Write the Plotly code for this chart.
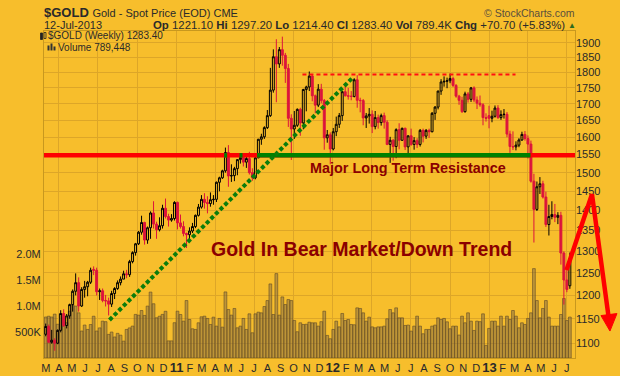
import math
import pandas as pd
import plotly.graph_objects as go

# ---------------- data ----------------
weeks = pd.date_range("2010-03-01", periods=176, freq="W-MON")

opens = [
    1118, 1134, 1102, 1106, 1100, 1126, 1161, 1136, 1156, 1180,
    1209, 1228, 1177, 1213, 1219, 1229, 1258, 1256, 1208, 1210,
    1189, 1188, 1181, 1204, 1215, 1228, 1236, 1248, 1246, 1276,
    1297, 1318, 1346, 1370, 1327, 1357, 1394, 1366, 1352, 1362,
    1406, 1385, 1376, 1380,
    1421, 1369, 1360, 1343, 1340, 1349, 1360, 1388, 1409, 1429,
    1421, 1418, 1428, 1429, 1474, 1486, 1505, 1556, 1491, 1492,
    1511, 1536, 1542, 1529, 1539, 1500, 1486, 1541, 1594, 1601,
    1628, 1664, 1743, 1852, 1828, 1876, 1857, 1813, 1656, 1624,
    1635, 1683, 1642, 1745, 1753, 1788, 1725, 1696, 1746, 1710,
    1598, 1607,
    1566, 1616, 1638, 1664, 1738, 1725, 1724, 1723, 1776, 1711,
    1710, 1657, 1663, 1668, 1631, 1658, 1643, 1664, 1644, 1579,
    1591, 1573, 1622, 1591, 1626, 1572, 1604, 1579, 1590, 1579,
    1620, 1603, 1620, 1616, 1671, 1690, 1740, 1769, 1771, 1773,
    1780, 1758, 1724, 1711, 1676, 1731, 1714, 1750, 1712, 1702,
    1697, 1658,
    1664, 1656, 1662, 1687, 1658, 1667, 1668, 1609, 1573, 1572,
    1577, 1592, 1608, 1596, 1580, 1477, 1403, 1462, 1470, 1435,
    1365, 1385, 1390, 1383, 1388, 1296, 1234, 1221.1,
]
highs = [
    1140, 1138, 1127, 1110, 1128, 1168, 1170, 1160, 1182, 1213,
    1249, 1240, 1218, 1232, 1232, 1262, 1265, 1262, 1215, 1215,
    1201, 1195, 1210, 1218, 1233, 1242, 1255, 1257, 1280, 1300,
    1320, 1349, 1387, 1372, 1360, 1398, 1424, 1372, 1383, 1415,
    1431, 1392, 1391, 1424,
    1423, 1390, 1373, 1345, 1358, 1369, 1390, 1417, 1440, 1445,
    1437, 1447, 1440, 1476, 1489, 1508, 1570, 1577, 1523, 1516,
    1537, 1549, 1547, 1552, 1558, 1512, 1543, 1595, 1610, 1632,
    1681, 1815, 1877, 1912, 1885, 1921, 1865, 1828, 1668, 1678,
    1686, 1688, 1747, 1757, 1803, 1793, 1729, 1762, 1763, 1715,
    1621, 1614,
    1627, 1661, 1672, 1740, 1764, 1750, 1740, 1781, 1791, 1719,
    1715, 1672, 1687, 1680, 1678, 1667, 1670, 1673, 1650, 1601,
    1595, 1626, 1641, 1628, 1628, 1605, 1625, 1600, 1597, 1624,
    1625, 1624, 1625, 1675, 1693, 1741, 1778, 1787, 1783, 1796,
    1786, 1762, 1728, 1722, 1738, 1737, 1753, 1755, 1723, 1726,
    1702, 1671,
    1694, 1679, 1695, 1696, 1680, 1684, 1675, 1619, 1617, 1588,
    1597, 1616, 1618, 1605, 1590, 1497, 1476, 1488, 1478, 1449,
    1415, 1424, 1417, 1396, 1397, 1300, 1267, 1297.2,
]
lows = [
    1114, 1100, 1099, 1085, 1098, 1122, 1133, 1130, 1150, 1165,
    1200, 1165, 1175, 1195, 1198, 1225, 1245, 1200, 1190, 1185,
    1176, 1157, 1175, 1192, 1212, 1222, 1236, 1238, 1241, 1272,
    1290, 1315, 1340, 1316, 1318, 1330, 1355, 1330, 1348, 1355,
    1380, 1360, 1372, 1375,
    1353, 1355, 1336, 1308, 1325, 1344, 1356, 1385, 1405, 1405,
    1393, 1410, 1415, 1422, 1450, 1483, 1500, 1462, 1475, 1477,
    1493, 1525, 1517, 1513, 1495, 1478, 1482, 1540, 1578, 1595,
    1624, 1660, 1735, 1705, 1815, 1822, 1766, 1630, 1535, 1595,
    1630, 1604, 1623, 1677, 1740, 1708, 1671, 1690, 1702, 1564,
    1584, 1523,
    1562, 1603, 1627, 1648, 1723, 1713, 1711, 1720, 1688, 1674,
    1635, 1627, 1640, 1612, 1623, 1625, 1634, 1625, 1577, 1527,
    1533, 1540, 1565, 1589, 1563, 1547, 1575, 1564, 1569, 1573,
    1585, 1595, 1598, 1614, 1651, 1683, 1728, 1754, 1749, 1765,
    1753, 1719, 1697, 1672, 1673, 1704, 1706, 1705, 1684, 1691,
    1635, 1646,
    1626, 1644, 1658, 1654, 1651, 1655, 1600, 1555, 1563, 1562,
    1571, 1589, 1590, 1539, 1473, 1321, 1399, 1443, 1431, 1359,
    1338, 1378, 1371, 1366, 1269, 1180, 1207, 1214.4,
]
closes = [
    1134, 1102, 1106, 1100, 1126, 1161, 1136, 1156, 1180, 1209,
    1228, 1177, 1213, 1219, 1229, 1256, 1256, 1208, 1210, 1189,
    1188, 1181, 1204, 1215, 1228, 1236, 1248, 1246, 1276, 1297,
    1318, 1346, 1370, 1327, 1357, 1394, 1366, 1352, 1362, 1406,
    1385, 1376, 1380, 1421,
    1369, 1360, 1343, 1340, 1349, 1360, 1388, 1409, 1429, 1421,
    1418, 1428, 1429, 1474, 1486, 1505, 1556, 1491, 1492, 1511,
    1536, 1542, 1529, 1539, 1500, 1486, 1541, 1594, 1601, 1628,
    1664, 1743, 1852, 1828, 1876, 1857, 1813, 1656, 1624, 1635,
    1683, 1642, 1745, 1753, 1788, 1725, 1696, 1746, 1710, 1598,
    1607, 1566,
    1616, 1638, 1664, 1738, 1725, 1724, 1723, 1776, 1711, 1710,
    1657, 1663, 1668, 1631, 1658, 1643, 1664, 1644, 1579, 1591,
    1573, 1622, 1591, 1626, 1572, 1604, 1579, 1590, 1579, 1620,
    1603, 1620, 1616, 1671, 1690, 1740, 1769, 1771, 1773, 1780,
    1758, 1724, 1711, 1676, 1731, 1714, 1750, 1712, 1702, 1697,
    1658, 1656,
    1656, 1662, 1687, 1658, 1667, 1668, 1609, 1573, 1572, 1577,
    1592, 1608, 1596, 1580, 1477, 1403, 1462, 1470, 1435, 1365,
    1385, 1390, 1383, 1388, 1296, 1234, 1213, 1283.4,
]
volume_k = [
    790, 805, 790, 845, 650, 845, 775, 680, 900, 1020,
    1000, 870, 520, 635, 550, 645, 805, 520, 580, 710,
    700, 455, 500, 405, 475, 440, 325, 550, 580, 615,
    840, 825, 915, 820, 1000, 1270, 1045, 775, 805, 840,
    900, 330, 330, 680,
    902, 838, 710, 1107, 742, 563, 550, 678, 794, 806,
    762, 646, 787, 614, 762, 595, 1273, 934, 826, 954,
    582, 614, 762, 550, 851, 486, 851, 883, 870, 992,
    1107, 1427, 838, 1626, 826, 1177, 1030, 1126, 1107, 723,
    506, 678, 646, 650, 690, 678, 678, 614, 700, 902,
    435, 371,
    550, 710, 600, 858, 723, 742, 646, 640, 966, 954,
    870, 710, 787, 600, 582, 600, 600, 614, 755, 934,
    870, 966, 774, 774, 627, 634, 518, 614, 806, 614,
    467, 550, 550, 614, 634, 774, 742, 762, 697, 563,
    614, 614, 442, 806, 678, 870, 710, 531, 710, 700,
    851, 243,
    570, 710, 710, 614, 806, 614, 806, 742, 915, 806,
    582, 678, 646, 762, 870, 1722, 1107, 774, 954, 1107,
    787, 614, 614, 614, 838, 1146, 723, 789,
]

price_ticks = list(range(1100, 1901, 50))
volume_ticks = [500000, 1000000, 1500000, 2000000]
volume_labels = ["500K", "1.0M", "1.5M", "2.0M"]
month_letters = ["J", "F", "M", "A", "M", "J", "J", "A", "S", "O", "N", "D"]
month_starts = pd.date_range("2010-03-01", "2013-07-01", freq="MS")

# drawn annotation lines (price level, date span)
resistance_level = 1548
resistance_span = ["2010-02-25", "2013-07-20"]
resistance_green = [["2011-07-08", "2013-04-07"], ["2011-04-22", "2011-04-29"],
                    ["2011-05-28", "2011-06-04"]]
top_level = 1793
top_span = ["2011-10-22", "2013-03-03"]
trend_dates = ["2010-07-28", "2012-02-15"]
trend_prices = [1147.5, 1781]

# ---------------- styling ----------------
BG = "#F7BE2C"
GRID = "#DDA628"
FRAME = "#C8981E"
TXT = "#2A2A2A"
FONT = "Liberation Sans, Arial, sans-serif"

W, H = 620, 376
L, R, T, B = 44, 575.5, 30.5, 358


def px(x):
    return (x - L) / (R - L)


def py(y):
    return (B - y) / (B - T)


tick_text = []
for m in month_starts:
    if m.month == 1:
        tick_text.append("<b><span style='font-size:13px'>%s</span></b>" % m.strftime("%y"))
    else:
        tick_text.append(month_letters[m.month - 1])

fig = go.Figure()

fig.add_trace(go.Bar(
    x=weeks, y=[v * 1000 for v in volume_k], yaxis="y",
    marker=dict(color="rgba(128,104,66,0.48)",
                line=dict(color="rgba(96,74,38,0.85)", width=0.7)),
    hoverinfo="skip", showlegend=False,
))

fig.add_trace(go.Candlestick(
    x=weeks, open=opens, high=highs, low=lows, close=closes, yaxis="y2",
    increasing=dict(line=dict(color="#000000", width=1), fillcolor="rgba(0,0,0,0)"),
    decreasing=dict(line=dict(color="#DC143C", width=1), fillcolor="#DC143C"),
    whiskerwidth=0, hoverinfo="skip", showlegend=False,
))


def level_line(span, level, color, width, dash="solid"):
    fig.add_trace(go.Scatter(
        x=span, y=[level, level], yaxis="y2", mode="lines",
        line=dict(color=color, width=width, dash=dash),
        hoverinfo="skip", showlegend=False,
    ))


level_line(resistance_span, resistance_level, "#FF0000", 4.5)
for seg in resistance_green:
    level_line(seg, resistance_level, "#008000", 4.5)
level_line(top_span, top_level, "#FF1010", 2, "4px,3px")

fig.add_trace(go.Scatter(
    x=trend_dates, y=trend_prices, yaxis="y2", mode="lines",
    line=dict(color="#0B7D0B", width=4, dash="4px,2.5px"),
    hoverinfo="skip", showlegend=False,
))

shapes = [
    # red arrow
    dict(type="path", xref="paper", yref="paper",
         path="M %f %f L %f %f L %f %f" % (px(567), py(270), px(592.5), py(194),
                                            px(609.0), py(316)),
         line=dict(color="#FF0000", width=4.5), layer="above"),
    dict(type="path", xref="paper", yref="paper",
         path="M %f %f L %f %f L %f %f Z" % (px(601.5), py(315.5), px(617.5), py(313.5),
                                              px(610.5), py(331)),
         line=dict(color="#FF0000", width=1), fillcolor="#FF0000", layer="above"),
    # legend icons
    dict(type="rect", xref="paper", yref="paper", x0=px(40.5), x1=px(42.5),
         y0=py(39), y1=py(32.5), line=dict(color="#222", width=0.8), fillcolor="#222", layer="above"),
    dict(type="rect", xref="paper", yref="paper", x0=px(44), x1=px(46),
         y0=py(38), y1=py(32), line=dict(color="#222", width=0.8), fillcolor="rgba(0,0,0,0)", layer="above"),
    dict(type="rect", xref="paper", yref="paper", x0=px(47.5), x1=px(49.5),
         y0=py(50), y1=py(45), line=dict(width=0), fillcolor="#333", layer="above"),
    dict(type="rect", xref="paper", yref="paper", x0=px(50.5), x1=px(52.5),
         y0=py(50), y1=py(43), line=dict(width=0), fillcolor="#333", layer="above"),
    dict(type="rect", xref="paper", yref="paper", x0=px(53.5), x1=px(55.5),
         y0=py(50), y1=py(46), line=dict(width=0), fillcolor="#333", layer="above"),
]

ann = []


def text(x, y, s, size=11, color=TXT, anchor="left"):
    ann.append(dict(xref="paper", yref="paper", x=px(x), y=py(y), text=s,
                    showarrow=False, xanchor=anchor, yanchor="middle",
                    font=dict(family=FONT, size=size, color=color), borderpad=0))


text(43, 12.3, "<b>$GOLD</b> <span style='font-size:11px'>Gold - Spot Price (EOD) CME</span>", size=13)
text(43, 24.5, "12-Jul-2013", size=11)
text(566, 24.5, "<b>Op</b> 1221.10 <b>Hi</b> 1297.20 <b>Lo</b> 1214.40 <b>Cl</b> 1283.40 "
                "<b>Vol</b> 789.4K <b>Chg</b> +70.70 (+5.83%)", size=11.4, anchor="right")
text(572.5, 24.5, "▲", size=8, color="#2E6B1E", anchor="center")
text(577, 12.3, "© StockCharts.com", size=10.5, color="#5A4E3C", anchor="right")
text(47, 35.2, "$GOLD (Weekly) 1283.40", size=10)
text(57, 46.7, "Volume 789,448", size=10)
text(309, 168, "<b>Major Long Term Resistance</b>", size=14.4, color="#8B0000")
text(210.5, 249, "<b>Gold In Bear Market/Down Trend</b>", size=19.5, color="#8B0000")

fig.update_layout(
    width=W, height=H, autosize=False,
    margin=dict(l=L, r=W - R, t=T, b=H - B, pad=0, autoexpand=False),
    paper_bgcolor=BG, plot_bgcolor=BG,
    bargap=0.08, boxgap=0.08, showlegend=False, hovermode=False,
    font=dict(family=FONT, size=11, color=TXT),
    xaxis=dict(
        type="date", range=["2010-02-25", "2013-07-20"], automargin=False,
        tickmode="array", tickvals=list(month_starts), ticktext=tick_text,
        tickfont=dict(size=11, color=TXT), ticks="", showgrid=False,
        minor=dict(dtick="M3", tick0="2010-01-01", showgrid=True, gridcolor=GRID, gridwidth=1),
        showline=True, linecolor=FRAME, linewidth=1, mirror=True,
        rangeslider=dict(visible=False), zeroline=False,
    ),
    yaxis=dict(
        side="left", range=[0, 6.3e6], tickmode="array", automargin=False,
        tickvals=volume_ticks, ticktext=volume_labels,
        tickfont=dict(size=11, color=TXT), ticks="", showgrid=False,
        zeroline=False, showline=True, linecolor=FRAME, linewidth=1, mirror=True,
    ),
    yaxis2=dict(
        overlaying="y", side="right", type="log", automargin=False,
        range=[math.log10(1070.8), math.log10(1940.8)], tickmode="array",
        tickvals=price_ticks, ticktext=[str(v) for v in price_ticks],
        tickfont=dict(size=11, color=TXT), ticks="", showgrid=True,
        gridcolor=GRID, gridwidth=1, zeroline=False, showline=False,
    ),
    shapes=shapes, annotations=ann,
)

fig.write_html(
    "out.html",
    config={"displayModeBar": False, "staticPlot": True},
    post_script="document.body.style.margin='0';document.body.style.padding='0';",
)
